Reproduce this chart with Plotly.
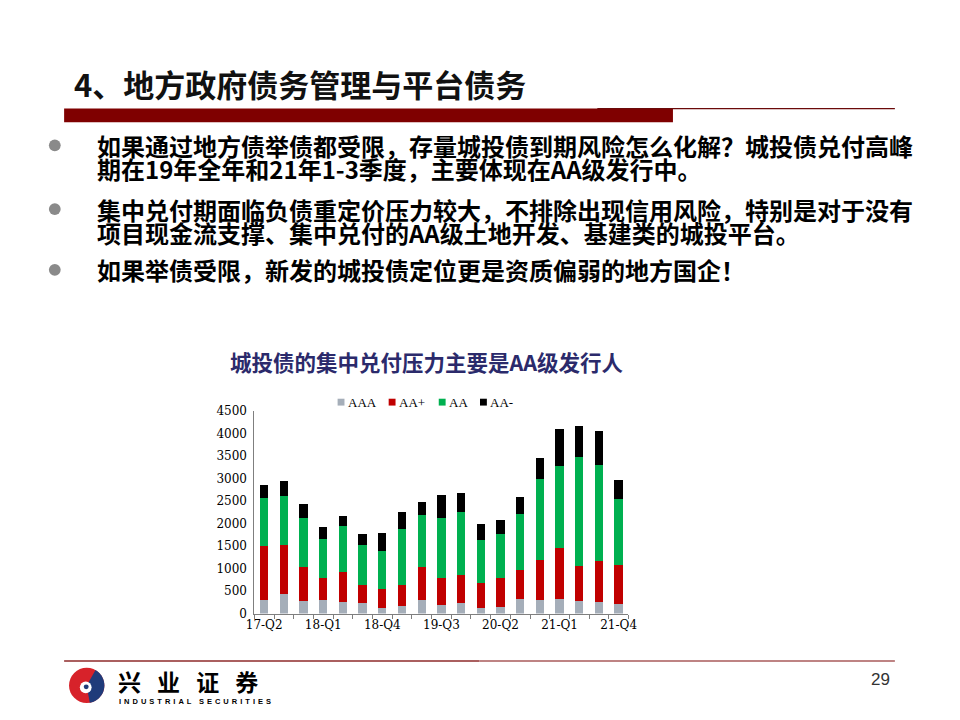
import numpy as np
import plotly.graph_objects as go

# ---------------- data ----------------
quarters = ["17-Q2", "17-Q3", "17-Q4", "18-Q1", "18-Q2", "18-Q3", "18-Q4",
            "19-Q1", "19-Q2", "19-Q3", "19-Q4", "20-Q1", "20-Q2", "20-Q3",
            "20-Q4", "21-Q1", "21-Q2", "21-Q3", "21-Q4"]
aaa = [298, 428, 276, 298, 254, 232, 131, 174, 298, 189, 232, 123, 152, 319, 298, 319, 276, 254, 210]
aa_plus = [1197, 1089, 762, 486, 661, 392, 413, 450, 740, 609, 632, 545, 646, 654, 892, 1133, 784, 915, 871]
aa = [1067, 1089, 1089, 864, 1023, 893, 842, 1263, 1154, 1329, 1393, 958, 958, 1241, 1808, 1829, 2417, 2133, 1459]
aa_minus = [283, 348, 304, 283, 232, 261, 414, 370, 283, 500, 414, 370, 327, 370, 457, 827, 696, 763, 436]
series_names = ["AAA", "AA+", "AA", "AA-"]
series_values = [aaa, aa_plus, aa, aa_minus]
series_colors = ["#A5AEB9", "#C00000", "#00B050", "#000000"]
tick_labels = ["17-Q2", "18-Q1", "18-Q4", "19-Q3", "20-Q2", "21-Q1", "21-Q4"]
y_ticks = [0, 500, 1000, 1500, 2000, 2500, 3000, 3500, 4000, 4500]

slide_title = "4、地方政府债务管理与平台债务"
chart_title = "城投债的集中兑付压力主要是AA级发行人"
bullet_lines = [
    ["如果通过地方债举债都受限，存量城投债到期风险怎么化解？城投债兑付高峰",
     "期在19年全年和21年1-3季度，主要体现在AA级发行中。"],
    ["集中兑付期面临负债重定价压力较大，不排除出现信用风险，特别是对于没有",
     "项目现金流支撑、集中兑付的AA级土地开发、基建类的城投平台。"],
    ["如果举债受限，新发的城投债定位更是资质偏弱的地方国企！"],
]
company_cn = "兴业证券"
company_en = "INDUSTRIAL SECURITIES"
page_number = "29"

# ---------------- geometry helpers (page pixels -> paper) ----------------
OFF = 8            # default body margin of the html page
W, H = 944, 704    # figure fits inside the 960x720 window
def px(x):
    return (x - OFF) / W
def py(y):
    return 1 - (y - OFF) / H

idx = list(range(len(quarters)))

fig = go.Figure()
for name, vals, col in zip(series_names, series_values, series_colors):
    fig.add_trace(go.Bar(x=idx, y=vals, name=name, marker=dict(color=col, line=dict(width=0)),
                         width=0.42, showlegend=False))

shapes = []
annotations = []

def text(t, x, y, size, color="#000000", family="Noto Sans CJK SC", weight="normal", xanchor="left"):
    annotations.append(dict(text=t, x=px(x), y=py(y), xref="paper", yref="paper",
                            xanchor=xanchor, yanchor="middle", showarrow=False, borderpad=0,
                            font=dict(family=family, size=size, color=color, weight=weight)))

# slide title
text(slide_title, 66, 78, 31, color="#111111", weight="bold")
# red band + line
shapes.append(dict(type="rect", xref="paper", yref="paper", x0=px(57), x1=px(677), y0=py(117.5), y1=py(103.5),
                   fillcolor="#7F0000", line=dict(width=0)))
shapes.append(dict(type="line", xref="paper", yref="paper", x0=px(600), x1=px(903), y0=py(103.5), y1=py(103.5),
                   line=dict(color="#6B0A0A", width=1.3)))

# bullets
line_y = [[141, 165], [206, 230], [268]]
for lines, ys in zip(bullet_lines, line_y):
    cy = ys[0]
    shapes.append(dict(type="circle", xref="paper", yref="paper", x0=px(41.5), x1=px(53.5), y0=py(cy + 6), y1=py(cy - 6),
                       fillcolor="#8A8A8A", line=dict(width=0)))
    for t, yy in zip(lines, ys):
        text(t, 89, yy, 24, weight="bold")

# chart title
text(chart_title, 427, 362, 21.5, color="#2B2A6B", weight="bold", xanchor="center")

# legend (drawn by hand: small squares like the original)
leg_sq_x = [339, 391, 442, 484]
for name, col, sx in zip(series_names, series_colors, leg_sq_x):
    shapes.append(dict(type="rect", xref="paper", yref="paper", x0=px(sx - 3.5), x1=px(sx + 3.5),
                       y0=py(406.5), y1=py(399.5), fillcolor=col, line=dict(width=0)))
    text(name, sx + 6, 403, 13, family="Liberation Serif")

# footer line
shapes.append(dict(type="line", xref="paper", yref="paper", x0=px(57), x1=px(480), y0=py(667), y1=py(667),
                   line=dict(color="#8E2A2A", width=1.5)))
shapes.append(dict(type="line", xref="paper", yref="paper", x0=px(480), x1=px(903), y0=py(667), y1=py(667),
                   line=dict(color="#A85A5A", width=1.5)))

# logo (decorative)
cx, cy, r = 80, 692, 18
def wedge(cx, cy, r, a0, a1, n=40):
    ang = np.linspace(np.radians(a0), np.radians(a1), n)
    pts = [(cx + r * np.cos(a), cy - r * np.sin(a)) for a in ang]
    s = "M " + " L ".join(f"{px(x):.5f},{py(y):.5f}" for x, y in pts)
    return s + f" L {px(cx):.5f},{py(cy):.5f} Z"
shapes.append(dict(type="circle", xref="paper", yref="paper", x0=px(cx - r), x1=px(cx + r), y0=py(cy + r), y1=py(cy - r),
                   fillcolor="#D7222A", line=dict(width=0)))
shapes.append(dict(type="path", xref="paper", yref="paper", path=wedge(cx, cy, r, -80, 60),
                   fillcolor="#1F3B7A", line=dict(width=0)))
shapes.append(dict(type="circle", xref="paper", yref="paper", x0=px(cx - 7), x1=px(cx + 5), y0=py(cy + 8), y1=py(cy - 4),
                   fillcolor="#FFFFFF", line=dict(width=0)))
shapes.append(dict(type="circle", xref="paper", yref="paper", x0=px(cx - 3), x1=px(cx + 2), y0=py(cy + 4), y1=py(cy - 1),
                   fillcolor="#1F3B7A", line=dict(width=0)))
text("\u2002\u2009".join(company_cn), 111, 688, 23, weight="bold")
text("\u2002\u2002".join("\u2009\u2009".join(w) for w in company_en.split(" ")), 112, 708, 7.5,
     family="Liberation Sans", weight="bold")
text(page_number, 888, 686, 17, color="#333333", family="Liberation Sans Narrow, Liberation Sans", xanchor="center")

fig.update_layout(
    width=W, height=H, margin=dict(l=0, r=0, t=0, b=0),
    paper_bgcolor="white", plot_bgcolor="white",
    barmode="stack", showlegend=False,
    shapes=shapes, annotations=annotations,
    xaxis=dict(domain=[px(250.7), px(631.7)], range=[-0.5, len(quarters) - 0.5],
               tickmode="array", tickvals=[quarters.index(t) for t in tick_labels], ticktext=tick_labels,
               ticks="", showline=True, linecolor="#7F7F7F", linewidth=1, showgrid=False, zeroline=False,
               tickfont=dict(family="DejaVu Serif", size=12, color="#000000"),
               minor=dict(ticks="outside", tickmode="linear", tick0=-0.5, dtick=1, ticklen=4,
                          tickcolor="#7F7F7F", tickwidth=1, showgrid=False)),
    yaxis=dict(domain=[py(618.7), py(412)], range=[0, 4500], tickmode="array", tickvals=y_ticks,
               showline=True, linecolor="#7F7F7F", linewidth=1, showgrid=False, zeroline=False,
               ticks="", ticklabelstandoff=4,
               tickfont=dict(family="DejaVu Serif", size=12, color="#000000")),
)

fig.write_html("out.html")
